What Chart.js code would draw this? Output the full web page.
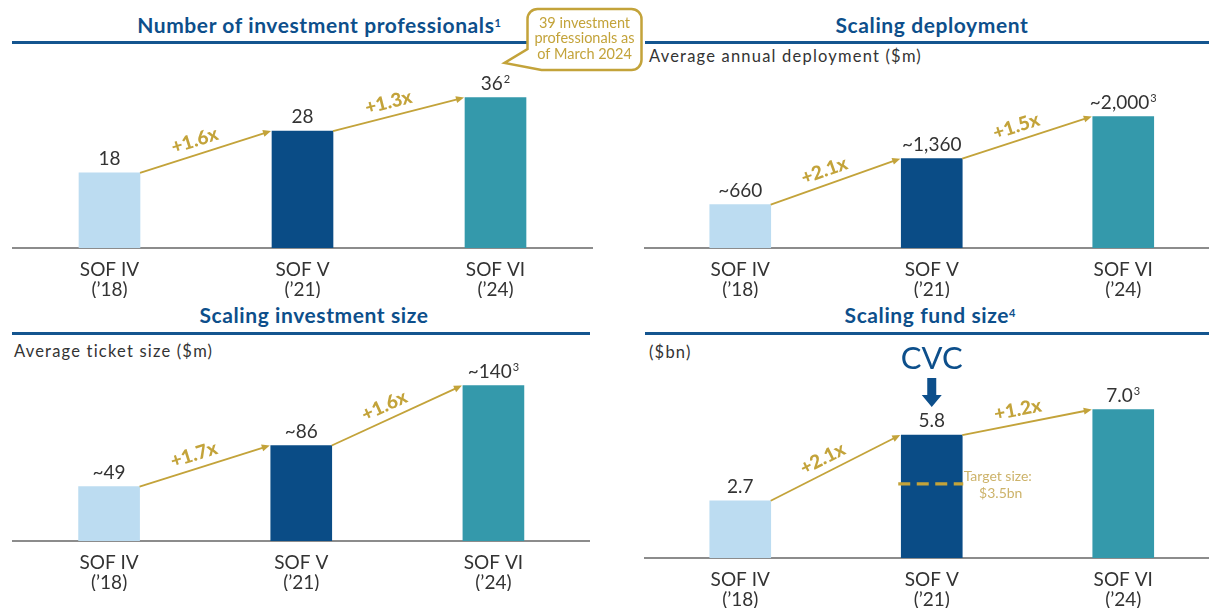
<!DOCTYPE html>
<html>
<head>
<meta charset="utf-8">
<script src="https://cdn.jsdelivr.net/npm/chart.js@4.4.1/dist/chart.umd.min.js"></script>
<style>
  body { margin: 0; width: 1209px; height: 608px; overflow: hidden; background: #fff; position: relative; font-family: Lato, sans-serif; }
  .title { position: absolute; font-weight: bold; color: #0d4f8b; font-size: 21px; line-height: 24px; letter-spacing: 0.6px; white-space: nowrap; transform: translateX(-50%); }
  .title sup { font-size: 11px; vertical-align: top; position: relative; top: -2px; letter-spacing: 0; }
  .rule { position: absolute; height: 3px; background: #14558f; }
  .sub { position: absolute; color: #333; font-size: 16.5px; line-height: 20px; letter-spacing: 1.2px; white-space: nowrap; }
  canvas { position: absolute; }
</style>
</head>
<body>
<div class="title" style="left:319px; top:13px">Number of investment professionals<sup>1</sup></div>
<div class="title" style="left:932px; top:13px">Scaling deployment</div>
<div class="title" style="left:314px; top:303px">Scaling investment size</div>
<div class="title" style="left:930px; top:303px">Scaling fund size<sup>4</sup></div>
<div class="rule" style="left:12px; top:41px; width:578px"></div>
<div class="rule" style="left:645px; top:41px; width:564px"></div>
<div class="rule" style="left:12px; top:332px; width:578px"></div>
<div class="rule" style="left:645px; top:332px; width:564px"></div>
<div class="sub" style="left:649px; top:46px">Average annual deployment ($m)</div>
<div class="sub" style="left:14px; top:341px">Average ticket size ($m)</div>
<div class="sub" style="left:649px; top:342px">($bn)</div>

<canvas id="c1" width="645" height="304" style="left:0; top:0"></canvas>
<canvas id="c2" width="590" height="304" style="left:640px; top:0"></canvas>
<canvas id="c3" width="645" height="308" style="left:0; top:300px"></canvas>
<canvas id="c4" width="590" height="308" style="left:640px; top:300px"></canvas>

<script>
// data
const categories = [["SOF IV", "(’18)"], ["SOF V", "(’21)"], ["SOF VI", "(’24)"]];

const professionals = [18, 28, 36];
const professionalsText = ["18", "28", "36"];
const professionalsSup = ["", "", "2"];
const professionalsGrowth = ["+1.6x", "+1.3x"];
const professionalsNote = ["39 investment", "professionals as", "of March 2024"];

const deployment = [660, 1360, 2000];
const deploymentText = ["~660", "~1,360", "~2,000"];
const deploymentSup = ["", "", "3"];
const deploymentGrowth = ["+2.1x", "+1.5x"];

const ticketSize = [49, 86, 140];
const ticketText = ["~49", "~86", "~140"];
const ticketSup = ["", "", "3"];
const ticketGrowth = ["+1.7x", "+1.6x"];

const fundSize = [2.7, 5.8, 7.0];
const fundText = ["2.7", "5.8", "7.0"];
const fundSup = ["", "", "3"];
const fundGrowth = ["+2.1x", "+1.2x"];
const fundTarget = 3.5;
const fundTargetText = ["Target size:", "$3.5bn"];

const barColors = ["#bcdcf1", "#0a4c86", "#3499ab"];
const gold = "#c3a33a";
const ink = "#333333";
const navy = "#0d4f8b";

function makeChart(id, values, texts, sups, growth, yMax, pad, extra) {
  const annot = {
    id: "annot",
    afterDatasetsDraw(chart) {
      const ctx = chart.ctx;
      const bars = chart.getDatasetMeta(0).data;
      ctx.save();

      // growth arrows between bar tops
      for (let i = 0; i < bars.length - 1; i++) {
        const a = bars[i], b = bars[i + 1];
        const x1 = a.x + a.width / 2, y1 = a.y;
        const x2 = b.x - b.width / 2 - 1, y2 = b.y;
        const ang = Math.atan2(y2 - y1, x2 - x1);
        const c = Math.cos(ang), s = Math.sin(ang);
        ctx.strokeStyle = gold;
        ctx.fillStyle = gold;
        ctx.lineWidth = 1.8;
        ctx.beginPath();
        ctx.moveTo(x1, y1);
        ctx.lineTo(x2 - 6 * c, y2 - 6 * s);
        ctx.stroke();
        ctx.beginPath();
        ctx.moveTo(x2, y2);
        ctx.lineTo(x2 - 8 * c + 3.5 * s, y2 - 8 * s - 3.5 * c);
        ctx.lineTo(x2 - 8 * c - 3.5 * s, y2 - 8 * s + 3.5 * c);
        ctx.closePath();
        ctx.fill();

        const t = 0.45, off = 14;
        const mx = x1 + (x2 - x1) * t + s * off;
        const my = y1 + (y2 - y1) * t - c * off;
        ctx.save();
        ctx.translate(mx, my);
        ctx.rotate(ang);
        ctx.font = "900 19px Lato";
        ctx.textAlign = "center";
        ctx.textBaseline = "middle";
        ctx.fillText(growth[i], 0, 0);
        ctx.restore();
      }

      // value labels
      bars.forEach((bar, i) => {
        ctx.font = "19px Lato";
        const w = ctx.measureText(texts[i]).width;
        let sw = 0;
        if (sups[i]) {
          ctx.font = "11px Lato";
          sw = ctx.measureText(sups[i]).width + 1;
        }
        const x0 = bar.x - (w + sw) / 2;
        const yb = bar.y - 8;
        ctx.fillStyle = ink;
        ctx.textAlign = "left";
        ctx.textBaseline = "alphabetic";
        ctx.font = "19px Lato";
        ctx.fillText(texts[i], x0, yb);
        if (sups[i]) {
          ctx.font = "11px Lato";
          ctx.fillText(sups[i], x0 + w + 1, yb - 7);
        }
      });

      if (extra) extra(chart, bars);
      ctx.restore();
    }
  };

  return new Chart(document.getElementById(id), {
    type: "bar",
    data: {
      labels: categories,
      datasets: [{ data: values, backgroundColor: barColors, borderWidth: 0, barThickness: 61 }],
    },
    options: {
      responsive: false,
      animation: false,
      events: [],
      layout: { padding: pad },
      plugins: { legend: { display: false }, tooltip: { enabled: false } },
      scales: {
        x: {
          grid: { display: false, drawTicks: false, tickLength: 0 },
          border: { display: true, color: "#8c8c8c", width: 2 },
          ticks: {
            color: ink,
            font: { family: "Lato", size: 19, lineHeight: 1.05 },
            padding: 12,
            maxRotation: 0,
            autoSkip: false,
          },
          afterFit(scale) { scale.height = 50; },
        },
        y: { display: false, min: 0, max: yMax },
      },
    },
    plugins: [annot],
  });
}

// callout box next to SOF VI
function drawNote(chart, bars) {
  const ctx = chart.ctx;
  const bx = bars[2].x;
  const L = bx + 32, R = bx + 146, T = 9, B = 70, r = 10;
  ctx.beginPath();
  ctx.moveTo(L + r, T);
  ctx.lineTo(R - r, T);
  ctx.arcTo(R, T, R, T + r, r);
  ctx.lineTo(R, B - r);
  ctx.arcTo(R, B, R - r, B, r);
  ctx.lineTo(L + 14, B);
  ctx.lineTo(bx + 9, 63);
  ctx.lineTo(L, B - 21);
  ctx.lineTo(L, T + r);
  ctx.arcTo(L, T, L + r, T, r);
  ctx.closePath();
  ctx.fillStyle = "#ffffff";
  ctx.fill();
  ctx.strokeStyle = gold;
  ctx.lineWidth = 2.5;
  ctx.stroke();
  ctx.fillStyle = gold;
  ctx.font = "14.5px Lato";
  ctx.textAlign = "center";
  ctx.textBaseline = "middle";
  professionalsNote.forEach((line, i) => {
    ctx.fillText(line, (L + R) / 2, 23 + i * 15.5);
  });
}

// CVC marker and target size line
function drawFundExtras(chart, bars) {
  const ctx = chart.ctx;
  const bar = bars[1];
  const x = bar.x;
  ctx.fillStyle = navy;
  ctx.font = "31px Lato";
  ctx.textAlign = "center";
  ctx.textBaseline = "alphabetic";
  ctx.fillText("CVC", x, bar.y - 66);
  // down arrow
  const tip = bar.y - 28;
  ctx.beginPath();
  ctx.moveTo(x - 4.5, tip - 29);
  ctx.lineTo(x + 4.5, tip - 29);
  ctx.lineTo(x + 4.5, tip - 12);
  ctx.lineTo(x + 10, tip - 12);
  ctx.lineTo(x, tip);
  ctx.lineTo(x - 10, tip - 12);
  ctx.lineTo(x - 4.5, tip - 12);
  ctx.closePath();
  ctx.fill();

  const ty = chart.scales.y.getPixelForValue(fundTarget);
  ctx.strokeStyle = gold;
  ctx.lineWidth = 3.2;
  ctx.setLineDash([12, 6.5]);
  ctx.beginPath();
  ctx.moveTo(x - bar.width / 2 - 3, ty);
  ctx.lineTo(x + bar.width / 2 + 1, ty);
  ctx.stroke();
  ctx.setLineDash([]);

  ctx.fillStyle = "#cdb36a";
  ctx.font = "14px Lato";
  ctx.textBaseline = "middle";
  ctx.fillText(fundTargetText[0], x + 66, ty - 7);
  ctx.fillText(fundTargetText[1], x + 69, ty + 10);
}

makeChart("c1", professionals, professionalsText, professionalsSup, professionalsGrowth, 45,
  { left: 13, right: 53, top: 60, bottom: 6 }, drawNote);
makeChart("c2", deployment, deploymentText, deploymentSup, deploymentGrowth, 2800,
  { left: 4.5, right: 11, top: 64, bottom: 6 });
makeChart("c3", ticketSize, ticketText, ticketSup, ticketGrowth, 200,
  { left: 13, right: 55.5, top: 19, bottom: 17 });
makeChart("c4", fundSize, fundText, fundSup, fundGrowth, 10,
  { left: 4.5, right: 11, top: 46, bottom: 0 }, drawFundExtras);
</script>
</body>
</html>
